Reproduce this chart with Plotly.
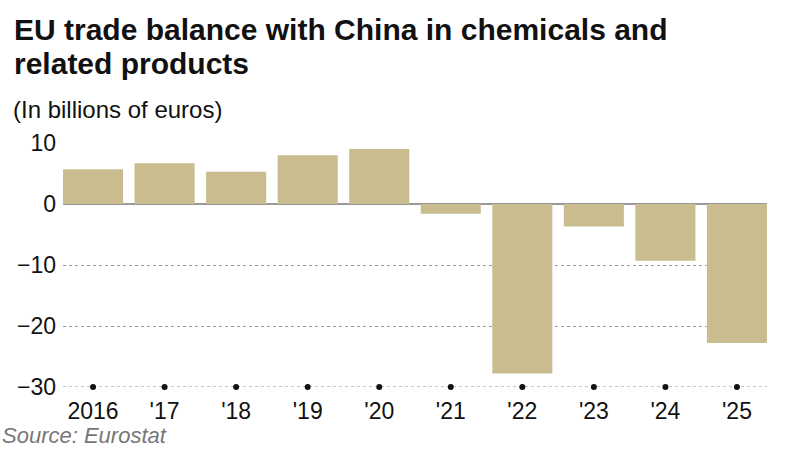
import plotly.graph_objects as go

years = ["2016", "'17", "'18", "'19", "'20", "'21", "'22", "'23", "'24", "'25"]
balance = [5.7, 6.7, 5.3, 8.0, 9.0, -1.6, -27.8, -3.7, -9.3, -22.8]
y_ticks = [-30, -20, -10, 0, 10]

FONT = "Liberation Sans, Arial, sans-serif"
BAR = "#c9bd8f"

PL, PR, PT, PB = 63, 767, 143, 387
PW, PH = PR - PL, PB - PT


def px(pix):
    return (pix - PL) / PW


def py(pix):
    return (PB - pix) / PH


fig = go.Figure()
fig.add_trace(go.Bar(x=years, y=balance, marker=dict(color=BAR, line=dict(width=0)),
                     width=0.84, hoverinfo="skip"))
fig.add_trace(go.Scatter(x=years, y=[-30] * len(years), mode="markers",
                         marker=dict(color="#111111", size=6), hoverinfo="skip", cliponaxis=False))

fig.update_layout(
    width=799, height=451,
    margin=dict(l=PL, r=799 - PR, t=PT, b=451 - PB),
    paper_bgcolor="white", plot_bgcolor="white",
    showlegend=False,
    font=dict(family=FONT, color="#111111"),
    xaxis=dict(type="category", range=[-0.42, 9.42], showgrid=False, zeroline=False,
               showline=False, ticks="", tickfont=dict(size=23, color="#111111"),
               ticklabelstandoff=8),
    yaxis=dict(range=[-30, 10], tickvals=y_ticks, showgrid=True, gridcolor="#9a9a9a",
               griddash="dot", gridwidth=1, zeroline=True, zerolinecolor="#999999",
               zerolinewidth=2, showline=False, ticks="", tickfont=dict(size=23, color="#111111"),
               ticklabelstandoff=6),
    annotations=[
        dict(text="<b>EU trade balance with China in chemicals and</b>",
             xref="paper", yref="paper", x=px(12), y=py(11), xanchor="left",
             yanchor="top", showarrow=False, align="left",
             font=dict(size=30, family=FONT, color="#111111")),
        dict(text="<b>related products</b>",
             xref="paper", yref="paper", x=px(12), y=py(45), xanchor="left",
             yanchor="top", showarrow=False, align="left",
             font=dict(size=30, family=FONT, color="#111111")),
        dict(text="(In billions of euros)", xref="paper", yref="paper", x=px(11),
             y=py(94), xanchor="left", yanchor="top", showarrow=False,
             font=dict(size=24, family=FONT, color="#111111")),
        dict(text="<i>Source: Eurostat</i>", xref="paper", yref="paper", x=px(0),
             y=py(421), xanchor="left", yanchor="top", showarrow=False,
             font=dict(size=22, family=FONT, color="#777777")),
    ],
)
fig.add_shape(type="line", xref="paper", yref="y", x0=0, x1=1, y0=-30, y1=-30,
              line=dict(color="#888888", width=1, dash="dot"), layer="below")

fig.write_html("out.html")
